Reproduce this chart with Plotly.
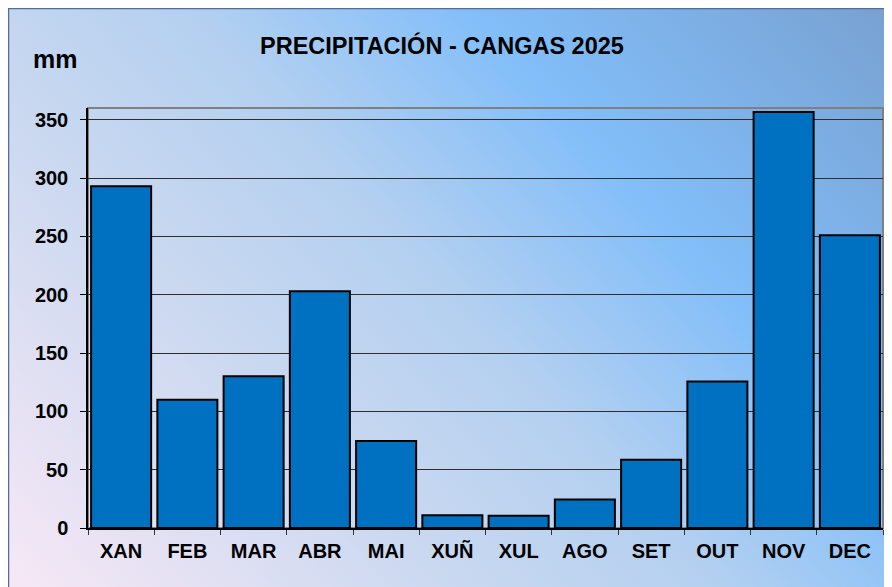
import base64
import plotly.graph_objects as go

months = ["XAN", "FEB", "MAR", "ABR", "MAI", "XUÑ", "XUL", "AGO", "SET", "OUT", "NOV", "DEC"]
precip_mm = [293, 110, 130, 203, 74.5, 11, 10.5, 24.5, 58.5, 125.5, 356.5, 251]
y_ticks = [0, 50, 100, 150, 200, 250, 300, 350]

# The page body adds an 8px offset, so figure coordinates = screen - 8
OFF = 8
W, H = 892, 587
L, R, T, B = 80, 17, 100, 67
pw, ph = W - L - R, H - T - B

def px_x(sx):
    return (sx - OFF - L) / pw

def px_y(sy):
    return (H - B - (sy - OFF)) / ph

svg = (
    '<svg xmlns="http://www.w3.org/2000/svg" width="892" height="587" viewBox="0 0 892 587" preserveAspectRatio="none">'
    '<defs><linearGradient id="g" x1="0" y1="1" x2="1.176" y2="0.294" gradientUnits="objectBoundingBox">'
    '<stop offset="0" stop-color="#F8E8F6"/>'
    '<stop offset="0.3" stop-color="#CCD9F0"/>'
    '<stop offset="0.5" stop-color="#B4D0F0"/>'
    '<stop offset="0.7" stop-color="#82BEF9"/>'
    '<stop offset="1" stop-color="#78A0D0"/>'
    '</linearGradient></defs>'
    '<rect x="0" y="0" width="892" height="587" fill="url(#g)"/></svg>'
)
src = "data:image/svg+xml;base64," + base64.b64encode(svg.encode()).decode()

fig = go.Figure()
fig.add_trace(go.Bar(
    x=months, y=precip_mm,
    marker=dict(color="#0070C0", line=dict(color="black", width=2)),
    hoverinfo="x+y",
))

font_family = "Liberation Sans, Arial, sans-serif"

fig.update_layout(
    width=W, height=H,
    margin=dict(l=L, r=R, t=T, b=B),
    paper_bgcolor="white",
    plot_bgcolor="rgba(0,0,0,0)",
    bargap=0.094,
    showlegend=False,
    font=dict(family=font_family, color="black"),
    images=[dict(
        source=src, xref="paper", yref="paper",
        x=-L / pw, y=(H - B) / ph, sizex=W / pw, sizey=H / ph,
        xanchor="left", yanchor="top", sizing="stretch", layer="below",
    )],
    shapes=[
        dict(type="rect", xref="paper", yref="paper",
             x0=(0.5 - L) / pw, x1=(W + 20 - L) / pw, y0=-(B + 20) / ph, y1=(H - B - 0.5) / ph,
             line=dict(color="#4F6E9C", width=1.5), fillcolor="rgba(0,0,0,0)", layer="below"),
        dict(type="rect", xref="paper", yref="paper",
             x0=0, x1=1, y0=0, y1=1,
             line=dict(color="#808080", width=2), fillcolor="rgba(0,0,0,0)", layer="below"),
    ],
    annotations=[
        dict(text="PRECIPITACIÓN - CANGAS 2025", xref="paper", yref="paper",
             x=px_x(442), y=px_y(45.5), xanchor="center", yanchor="middle", showarrow=False,
             font=dict(size=23.5, family=font_family, weight="bold", color="black")),
        dict(text="mm", xref="paper", yref="paper",
             x=px_x(31), y=px_y(59), xanchor="left", yanchor="middle", showarrow=False,
             font=dict(size=25, family=font_family, weight="bold", color="black")),
    ],
)

fig.update_xaxes(
    showline=True, linecolor="black", linewidth=1.5,
    ticks="outside", tickson="boundaries", ticklen=5, tickcolor="#333333", tickwidth=1,
    tickfont=dict(size=20, family=font_family, weight="bold", color="black"),
    ticklabelstandoff=4,
    showgrid=False, zeroline=False, fixedrange=True,
)
fig.update_yaxes(
    range=[0, 360], tickvals=y_ticks,
    showline=True, linecolor="black", linewidth=1.5,
    ticks="outside", ticklen=6, tickcolor="black", tickwidth=1,
    tickfont=dict(size=20, family=font_family, weight="bold", color="black"),
    ticklabelstandoff=8,
    showgrid=True, gridcolor="#2E2E2E", gridwidth=1, zeroline=False, fixedrange=True,
)

fig.write_html("out.html")
